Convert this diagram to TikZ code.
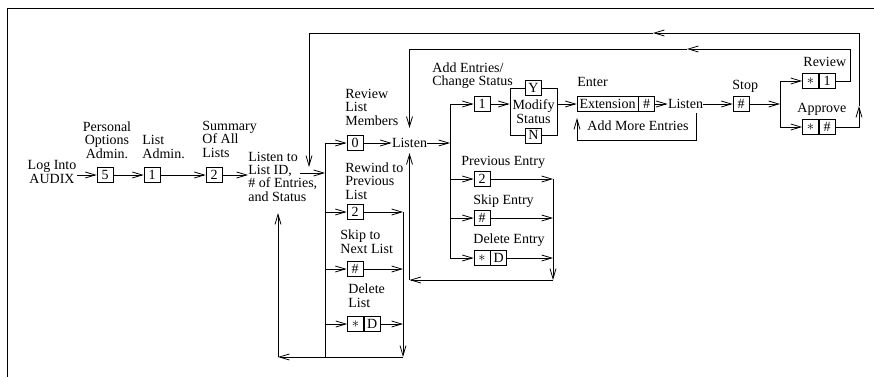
\documentclass[tikz,border=0pt]{standalone}
\usepackage{fontspec}
\setmainfont{Liberation Serif}
\usetikzlibrary{arrows.meta}
\begin{document}
\begin{tikzpicture}[x=1pt,y=-1pt,
  line width=0.8pt,
  arr/.style={-{Straight Barb[length=10pt,width=6pt]}},
  box/.style={draw,line width=0.7pt,minimum width=16pt,minimum height=15pt,inner sep=0pt,fill=white},
  lbl/.style={inner sep=0pt,align=left,anchor=base west},
  every node/.append style={font=\fontsize{14}{13.3}\selectfont}]
\useasboundingbox (0,0) rectangle (874,377);
% frame
\draw (7,377) -- (7,8) -- (874,8);

% ---- entry chain (multi-line labels: position = baseline of last line)
\node[lbl,align=center,anchor=base] (login) at (52,183) {Log Into\\AUDIX};
\node[box] (b5) at (105,175) {5};
\node[box] (b1) at (152,175) {1};
\node[box] (b2) at (214,175) {2};
\node[lbl,align=center,anchor=base] (poa) at (107,158) {Personal\\Options\\Admin.};
\node[lbl] (la) at (142,158) {List\\Admin.};
\node[lbl] (soal) at (202,157) {Summary\\Of All\\Lists};
\node[lbl] (lid) at (248,201) {Listen to\\List ID,\\\# of Entries,\\and Status};
\draw[arr] (login.east |- b5.west) -- (b5.west);
\draw[arr] (b5) -- (b1);
\draw[arr] (b1) -- (b2);
\draw[arr] (b2.east) -- (lid.west |- b2.east);

% ---- list branches
\coordinate (lidOut) at (300,173);
\coordinate (j1) at (325,173);
\coordinate (v1t) at (325,143);
\coordinate (v1b) at (325,357);
\draw[arr] (lidOut) -- (j1);
\draw (v1t) -- (v1b);

\node[box] (b0) at (355,143) {0};
\node[lbl] (rlm) at (345,125) {Review\\List\\Members};
\node[inner sep=0pt] (lsA) at (409.5,143) {Listen};
\draw[arr] (v1t) -- (b0.west);
\draw[arr] (b0.east) -- (lsA.west);

\node[box] (rw) at (355,212) {2};
\node[lbl] (rwl) at (345,199) {Rewind to\\Previous\\List};
\node[box] (sn) at (355,269) {\#};
\node[lbl] (snl) at (340,253) {Skip to\\Next List};
\node[box] (dlS) at (355.5,324) {$\ast$};
\node[box,anchor=west] (dlD) at (dlS.east) {D};
\node[lbl] (dll) at (348,307) {Delete\\List};
\coordinate (v2t) at (403,212);
\coordinate (v2b) at (403,357);
\coordinate (c278) at (278,357);
\coordinate (c278t) at (278,213);
\draw[arr] (v1t |- rw.west) -- (rw.west);
\draw[arr] (rw.east) -- (v2t);
\draw[arr] (v1t |- sn.west) -- (sn.west);
\draw[arr] (sn.east) -- (v2t |- sn.east);
\draw[arr] (v1t |- dlS.west) -- (dlS.west);
\draw[arr] (dlD.east) -- (v2t |- dlD.east);
\draw[arr] (v2t) -- (v2b);
\draw[arr] (v2b) -- (c278);
\draw[arr] (c278) -- (c278t);

% ---- entry branches
\coordinate (jA) at (450,143);
\coordinate (vAt) at (450,104);
\coordinate (vAb) at (450,258);
\draw[arr] (lsA.east) -- (jA);
\draw (vAt) -- (vAb);

\node[box] (bA1) at (482,104) {1};
\node[lbl] (aecs) at (432,86) {Add Entries/\\Change Status};
\draw[arr] (vAt) -- (bA1.west);
\node[draw,line width=0.7pt,minimum width=47pt,minimum height=47pt,inner sep=0pt,align=center] (mod) at (533.5,111.5) {Modify\\Status};
\node[box] (mY) at (mod.north) {Y};
\node[box] (mN) at (mod.south) {N};
\draw[arr] (bA1.east) -- (bA1.east -| mod.west);
\node[box,minimum width=61pt] (ext) at (607.5,104) {Extension};
\node[box,anchor=west] (eh) at (ext.east) {\#};
\node[lbl] (ent) at (577,87) {Enter};
\draw[arr] (mod.east |- ext.west) -- (ext.west);
\node[inner sep=0pt] (lsB) at (685.5,104) {Listen};
\draw[arr] (eh.east) -- (lsB.west);
\node[box] (st) at (741,104) {\#};
\node[lbl] (stl) at (732,90) {Stop};
\draw[arr] (lsB.east) -- (st.west);
\coordinate (jS) at (780,104);
\coordinate (vSt) at (780,81);
\coordinate (vSb) at (780,127);
\draw[arr] (st.east) -- (jS);
\draw (vSt) -- (vSb);
\node[box] (rS) at (810.5,81) {$\ast$};
\node[box,anchor=west] (r1) at (rS.east) {1};
\node[lbl] (rvl) at (803,67) {Review};
\node[box] (aS) at (810.5,127) {$\ast$};
\node[box,anchor=west] (aH) at (aS.east) {\#};
\node[lbl] (apl) at (797,112) {Approve};
\draw[arr] (vSt) -- (rS.west);
\draw[arr] (vSb) -- (aS.west);

% add more entries loop
\coordinate (amA) at (696,113);
\coordinate (amB) at (696,140);
\coordinate (amC) at (577,140);
\coordinate (amD) at (577,118);
\draw[arr] (amA) -- (amB) -- (amC) -- (amD);
\node[lbl] (ame) at (587,130) {Add More Entries};

% inner loop (review)
\coordinate (iR) at (850,81);
\coordinate (iT) at (850,49);
\coordinate (iM) at (687,49);
\draw[arr] (r1.east) -- (iR) -- (iT) -- (iM);
\draw[arr] (iM) -- (lsA.north |- iM) -- ([yshift=10pt]lsA.north);

% outer loop (approve)
\coordinate (oR) at (859,127);
\coordinate (oU) at (859,106);
\coordinate (oT) at (859,33);
\coordinate (oM) at (653,33);
\coordinate (oL) at (309,33);
\coordinate (oD) at (309,167);
\draw[arr] (aH.east) -- (oR) -- (oU);
\draw[arr] (oU) -- (oT) -- (oM);
\draw[arr] (oM) -- (oL) -- (oD);

% previous / skip / delete entry
\node[box] (pe) at (482,179) {2};
\node[lbl] (pel) at (461,165) {Previous Entry};
\node[box] (se) at (482,218) {\#};
\node[lbl] (sel) at (473,204) {Skip Entry};
\node[box] (deS) at (482,258) {$\ast$};
\node[box,anchor=west] (deD) at (deS.east) {D};
\node[lbl] (del) at (473,243) {Delete Entry};
\coordinate (vBt) at (553,179);
\coordinate (vBb) at (553,280);
\draw[arr] (vAt |- pe.west) -- (pe.west);
\draw[arr] (vAt |- se.west) -- (se.west);
\draw[arr] (vAt |- deS.west) -- (deS.west);
\draw[arr] (pe.east) -- (vBt);
\draw[arr] (se.east) -- (vBt |- se.east);
\draw[arr] (deD.east) -- (vBt |- deD.east);
\draw[arr] (vBt) -- (vBb);
\draw[arr] (vBb) -- (lsA.south |- vBb);
\draw[arr] (lsA.south |- vBb) -- ([yshift=-5pt]lsA.south);
\end{tikzpicture}
\end{document}
